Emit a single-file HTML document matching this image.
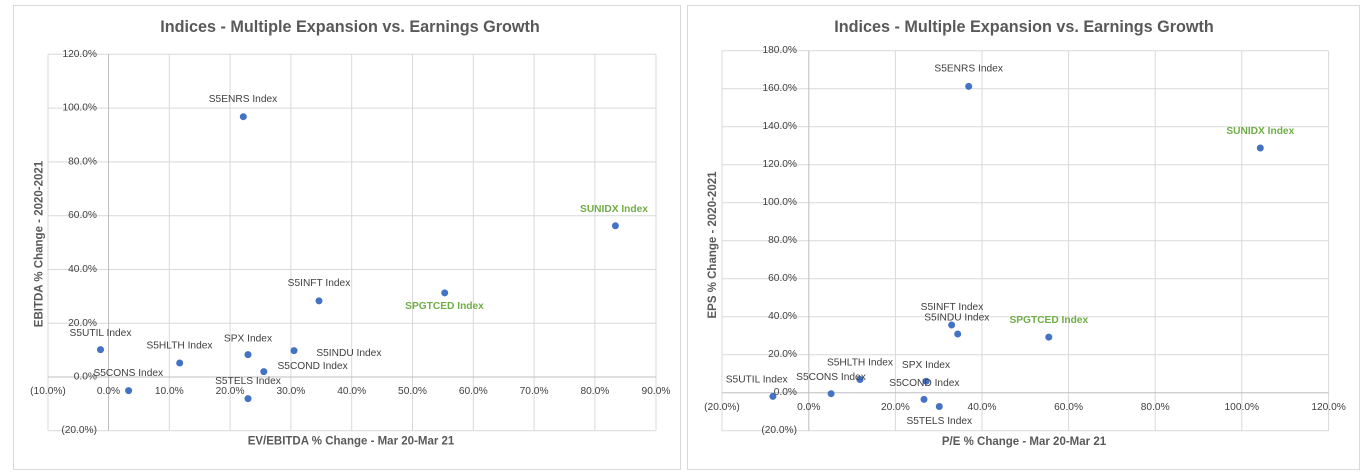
<!DOCTYPE html>
<html><head><meta charset="utf-8"><style>
html,body{margin:0;padding:0;background:#fff}
svg{display:block}
text{font-family:"Liberation Sans",sans-serif;fill:#404040}
.t{font-size:10.2px}
.tk{font-size:10.2px;fill:#595959}
.ttl{font-size:16.2px;font-weight:bold;fill:#595959}
.ax{font-size:11.5px;font-weight:bold;fill:#595959}
.g{fill:#70ad47;font-weight:bold}
.gr{stroke:#d9d9d9;stroke-width:1}
.az{stroke:#bfbfbf;stroke-width:1}
circle{fill:#4472c4}
</style></head><body>
<svg width="1368" height="474" viewBox="0 0 1368 474">
<rect x="0" y="0" width="1368" height="474" fill="#fff"/>
<rect x="13.5" y="5.5" width="667" height="464" fill="none" stroke="#d9d9d9"/>
<rect x="687.5" y="5.5" width="672" height="464" fill="none" stroke="#d9d9d9"/>

<!-- LEFT CHART -->
<g>
<text class="ttl" x="350" y="27" text-anchor="middle" dominant-baseline="central">Indices - Multiple Expansion vs. Earnings Growth</text>
<g class="gr">
<line x1="48" y1="54.3" x2="656" y2="54.3"/><line x1="48" y1="108.1" x2="656" y2="108.1"/><line x1="48" y1="161.9" x2="656" y2="161.9"/><line x1="48" y1="215.7" x2="656" y2="215.7"/><line x1="48" y1="269.5" x2="656" y2="269.5"/><line x1="48" y1="323.3" x2="656" y2="323.3"/><line x1="48" y1="430.7" x2="656" y2="430.7"/>
<line x1="48" y1="54.3" x2="48" y2="430.7"/><line x1="169.3" y1="54.3" x2="169.3" y2="430.7"/><line x1="230.1" y1="54.3" x2="230.1" y2="430.7"/><line x1="290.9" y1="54.3" x2="290.9" y2="430.7"/><line x1="351.7" y1="54.3" x2="351.7" y2="430.7"/><line x1="412.5" y1="54.3" x2="412.5" y2="430.7"/><line x1="473.3" y1="54.3" x2="473.3" y2="430.7"/><line x1="534.1" y1="54.3" x2="534.1" y2="430.7"/><line x1="594.9" y1="54.3" x2="594.9" y2="430.7"/><line x1="656" y1="54.3" x2="656" y2="430.7"/>
</g>
<line class="az" x1="108.5" y1="54.3" x2="108.5" y2="430.7"/>
<line class="az" x1="48" y1="377" x2="656" y2="377"/>
<g class="tk" text-anchor="end">
<text x="97" y="54.3" dominant-baseline="central">120.0%</text>
<text x="97" y="108.1" dominant-baseline="central">100.0%</text>
<text x="97" y="161.9" dominant-baseline="central">80.0%</text>
<text x="97" y="215.7" dominant-baseline="central">60.0%</text>
<text x="97" y="269.5" dominant-baseline="central">40.0%</text>
<text x="97" y="323.3" dominant-baseline="central">20.0%</text>
<text x="97" y="377" dominant-baseline="central">0.0%</text>
<text x="97" y="430.7" dominant-baseline="central">(20.0%)</text>
</g>
<g class="tk" text-anchor="middle">
<text x="48" y="391.6" dominant-baseline="central">(10.0%)</text>
<text x="108.5" y="391.6" dominant-baseline="central">0.0%</text>
<text x="169.3" y="391.6" dominant-baseline="central">10.0%</text>
<text x="230.1" y="391.6" dominant-baseline="central">20.0%</text>
<text x="290.9" y="391.6" dominant-baseline="central">30.0%</text>
<text x="351.7" y="391.6" dominant-baseline="central">40.0%</text>
<text x="412.5" y="391.6" dominant-baseline="central">50.0%</text>
<text x="473.3" y="391.6" dominant-baseline="central">60.0%</text>
<text x="534.1" y="391.6" dominant-baseline="central">70.0%</text>
<text x="594.9" y="391.6" dominant-baseline="central">80.0%</text>
<text x="656" y="391.6" dominant-baseline="central">90.0%</text>
</g>
<text class="ax" x="351" y="441.7" text-anchor="middle" dominant-baseline="central">EV/EBITDA % Change - Mar 20-Mar 21</text>
<text class="ax" x="0" y="0" text-anchor="middle" dominant-baseline="central" transform="translate(39.4,244) rotate(-90)">EBITDA % Change - 2020-2021</text>
<circle cx="243.3" cy="116.7" r="3.5"/>
<circle cx="615.4" cy="225.8" r="3.5"/>
<circle cx="319" cy="300.9" r="3.5"/>
<circle cx="444.7" cy="292.9" r="3.5"/>
<circle cx="100.5" cy="349.6" r="3.5"/>
<circle cx="179.7" cy="363" r="3.5"/>
<circle cx="248" cy="354.6" r="3.5"/>
<circle cx="294" cy="350.6" r="3.5"/>
<circle cx="263.8" cy="371.6" r="3.5"/>
<circle cx="128.6" cy="390.6" r="3.5"/>
<circle cx="248" cy="398.6" r="3.5"/>
<g class="t" text-anchor="middle">
<text x="243" y="99.3" dominant-baseline="central">S5ENRS Index</text>
<text class="g" x="614" y="209.5" dominant-baseline="central">SUNIDX Index</text>
<text x="319" y="283.5" dominant-baseline="central">S5INFT Index</text>
<text class="g" x="444.5" y="306.5" dominant-baseline="central">SPGTCED Index</text>
<text x="100.5" y="333.6" dominant-baseline="central">S5UTIL Index</text>
<text x="179.5" y="346" dominant-baseline="central">S5HLTH Index</text>
<text x="248" y="339" dominant-baseline="central">SPX Index</text>
<text x="348.9" y="353.6" dominant-baseline="central">S5INDU Index</text>
<text x="312.6" y="366.6" dominant-baseline="central">S5COND Index</text>
<text x="128.3" y="373.6" dominant-baseline="central">S5CONS Index</text>
<text x="248" y="381.3" dominant-baseline="central">S5TELS Index</text>
</g>
</g>

<!-- RIGHT CHART -->
<g>
<text class="ttl" x="1024" y="27" text-anchor="middle" dominant-baseline="central">Indices - Multiple Expansion vs. Earnings Growth</text>
<g class="gr">
<line x1="722" y1="50.7" x2="1328.6" y2="50.7"/><line x1="722" y1="88.7" x2="1328.6" y2="88.7"/><line x1="722" y1="126.7" x2="1328.6" y2="126.7"/><line x1="722" y1="164.7" x2="1328.6" y2="164.7"/><line x1="722" y1="202.7" x2="1328.6" y2="202.7"/><line x1="722" y1="240.7" x2="1328.6" y2="240.7"/><line x1="722" y1="278.7" x2="1328.6" y2="278.7"/><line x1="722" y1="316.7" x2="1328.6" y2="316.7"/><line x1="722" y1="354.7" x2="1328.6" y2="354.7"/><line x1="722" y1="430.7" x2="1328.6" y2="430.7"/>
<line x1="722" y1="50.7" x2="722" y2="430.7"/><line x1="895.4" y1="50.7" x2="895.4" y2="430.7"/><line x1="982" y1="50.7" x2="982" y2="430.7"/><line x1="1068.6" y1="50.7" x2="1068.6" y2="430.7"/><line x1="1155.2" y1="50.7" x2="1155.2" y2="430.7"/><line x1="1241.8" y1="50.7" x2="1241.8" y2="430.7"/><line x1="1328.6" y1="50.7" x2="1328.6" y2="430.7"/>
</g>
<line class="az" x1="808.8" y1="50.7" x2="808.8" y2="430.7"/>
<line class="az" x1="722" y1="392.7" x2="1328.6" y2="392.7"/>
<g class="tk" text-anchor="end">
<text x="797" y="50.7" dominant-baseline="central">180.0%</text>
<text x="797" y="88.7" dominant-baseline="central">160.0%</text>
<text x="797" y="126.7" dominant-baseline="central">140.0%</text>
<text x="797" y="164.7" dominant-baseline="central">120.0%</text>
<text x="797" y="202.7" dominant-baseline="central">100.0%</text>
<text x="797" y="240.7" dominant-baseline="central">80.0%</text>
<text x="797" y="278.7" dominant-baseline="central">60.0%</text>
<text x="797" y="316.7" dominant-baseline="central">40.0%</text>
<text x="797" y="354.7" dominant-baseline="central">20.0%</text>
<text x="797" y="392.7" dominant-baseline="central">0.0%</text>
<text x="797" y="430.7" dominant-baseline="central">(20.0%)</text>
</g>
<g class="tk" text-anchor="middle">
<text x="722" y="407.5" dominant-baseline="central">(20.0%)</text>
<text x="808.8" y="407.5" dominant-baseline="central">0.0%</text>
<text x="895.4" y="407.5" dominant-baseline="central">20.0%</text>
<text x="982" y="407.5" dominant-baseline="central">40.0%</text>
<text x="1068.6" y="407.5" dominant-baseline="central">60.0%</text>
<text x="1155.2" y="407.5" dominant-baseline="central">80.0%</text>
<text x="1241.8" y="407.5" dominant-baseline="central">100.0%</text>
<text x="1328.6" y="407.5" dominant-baseline="central">120.0%</text>
</g>
<text class="ax" x="1024" y="441.9" text-anchor="middle" dominant-baseline="central">P/E % Change - Mar 20-Mar 21</text>
<text class="ax" x="0" y="0" text-anchor="middle" dominant-baseline="central" transform="translate(713,245) rotate(-90)">EPS % Change - 2020-2021</text>
<circle cx="968.7" cy="86.4" r="3.5"/>
<circle cx="1260.3" cy="148" r="3.5"/>
<circle cx="951.6" cy="325" r="3.5"/>
<circle cx="957.7" cy="334" r="3.5"/>
<circle cx="1048.8" cy="337.1" r="3.5"/>
<circle cx="860" cy="379.5" r="3.5"/>
<circle cx="926.2" cy="381.2" r="3.5"/>
<circle cx="831.1" cy="393.7" r="3.5"/>
<circle cx="772.9" cy="396.4" r="3.5"/>
<circle cx="924" cy="399.4" r="3.5"/>
<circle cx="939.3" cy="406.5" r="3.5"/>
<g class="t" text-anchor="middle">
<text x="968.7" y="69.2" dominant-baseline="central">S5ENRS Index</text>
<text class="g" x="1260.3" y="131.5" dominant-baseline="central">SUNIDX Index</text>
<text x="952" y="307.4" dominant-baseline="central">S5INFT Index</text>
<text x="956.8" y="317.9" dominant-baseline="central">S5INDU Index</text>
<text class="g" x="1048.8" y="320.6" dominant-baseline="central">SPGTCED Index</text>
<text x="860" y="363" dominant-baseline="central">S5HLTH Index</text>
<text x="926" y="365.4" dominant-baseline="central">SPX Index</text>
<text x="831" y="377.5" dominant-baseline="central">S5CONS Index</text>
<text x="756.7" y="380.2" dominant-baseline="central">S5UTIL Index</text>
<text x="924.4" y="383.6" dominant-baseline="central">S5COND Index</text>
<text x="939.3" y="421.7" dominant-baseline="central">S5TELS Index</text>
</g>
</g>
</svg>
</body></html>
